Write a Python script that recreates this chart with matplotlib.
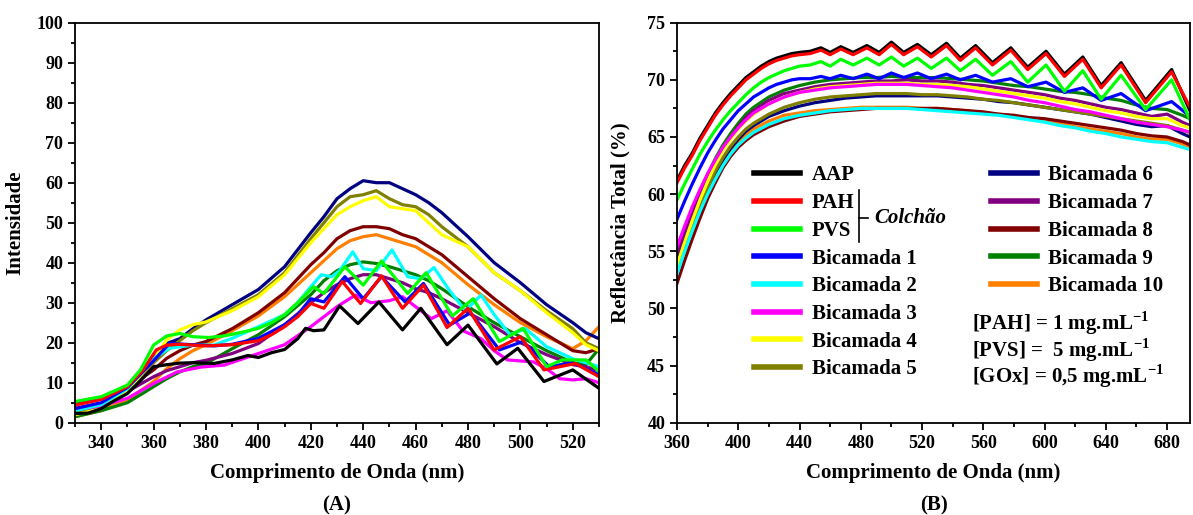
import matplotlib
matplotlib.use("Agg")
import matplotlib.pyplot as plt
from matplotlib.ticker import MultipleLocator

plt.rcParams['font.family'] = ['Liberation Serif', 'DejaVu Serif']
plt.rcParams['font.weight'] = 'bold'
plt.rcParams['axes.labelweight'] = 'bold'
plt.rcParams['mathtext.fontset'] = 'custom'
plt.rcParams['mathtext.rm'] = 'Liberation Serif:bold'
plt.rcParams['mathtext.bf'] = 'Liberation Serif:bold'

names = ['AAP', 'PAH', 'PVS', 'Bicamada 1', 'Bicamada 2', 'Bicamada 3', 'Bicamada 4',
         'Bicamada 5', 'Bicamada 6', 'Bicamada 7', 'Bicamada 8', 'Bicamada 9', 'Bicamada 10']
colors = ['#000000', '#ff0000', '#00ff00', '#0000ff', '#00ffff', '#ff00ff', '#ffff00',
          '#808000', '#000080', '#800080', '#800000', '#008000', '#ff8000']

# ---------------- (A) fluorescencia ----------------
a_x_aap = [330, 335, 340, 345, 350, 355, 360, 365, 370, 375, 383, 390, 396, 400, 405, 410,
           415, 418, 421, 425, 431, 438, 446, 455, 462, 472, 480, 491, 499, 509, 520, 530]
a_y_aap = [2.3, 2.4, 3.5, 5.5, 7.3, 10.5, 14.0, 14.5, 14.9, 15.0, 14.8, 15.7, 16.8, 16.3, 17.5, 18.3,
           21.0, 23.6, 23.0, 23.2, 29.2, 24.8, 30.2, 23.2, 28.6, 19.5, 24.4, 14.7, 18.6, 10.3, 13.2, 8.6]

a_x_pah = [330, 340, 350, 356, 361, 365, 370, 380, 390, 400, 405, 410, 415, 420, 425, 432,
           439, 447, 455, 463, 472, 480, 490, 500, 509, 521, 530]
a_y_pah = [4.4, 5.8, 9.0, 13.2, 18.2, 19.4, 19.6, 19.2, 19.5, 20.5, 22.0, 24.0, 26.5, 29.8, 28.6, 35.3,
           29.8, 36.7, 28.6, 34.4, 23.8, 28.6, 18.2, 21.5, 13.2, 14.8, 11.5]

a_x_pvs = [330, 340, 350, 355, 360, 365, 370, 375, 381, 387, 395, 400, 405, 410, 415, 421,
           425, 433, 440, 447, 457, 464, 474, 482, 492, 501, 510, 516, 525, 530]
a_y_pvs = [5.3, 6.5, 9.4, 13.2, 19.4, 21.7, 22.3, 21.5, 21.3, 21.7, 22.8, 23.6, 25.0, 27.0, 30.0, 34.0,
           32.3, 39.0, 34.4, 40.4, 32.3, 37.5, 26.7, 31.0, 20.3, 23.6, 14.0, 15.7, 15.7, 12.8]

a_x_b1 = [330, 340, 350, 360, 366, 375, 383, 390, 400, 410, 415, 420, 425, 433, 440, 447,
          456, 463, 473, 481, 492, 501, 511, 520, 530]
a_y_b1 = [3.5, 5.0, 8.8, 15.5, 19.8, 19.5, 19.2, 19.6, 21.1, 24.5, 27.0, 31.0, 30.2, 36.5, 31.0, 36.5,
          30.2, 34.8, 24.4, 27.5, 18.2, 20.3, 14.0, 15.0, 12.0]

a_x_b2 = [330, 340, 350, 360, 366, 375, 383, 390, 400, 410, 415, 420, 424, 428, 431, 436,
          440, 445, 451, 457, 462, 467, 473, 479, 485, 490, 496, 502, 510, 520, 530]
a_y_b2 = [3.0, 4.5, 8.5, 16.0, 18.6, 19.4, 19.4, 21.1, 24.0, 27.0, 30.0, 34.0, 37.0, 36.5, 38.0, 42.7,
          38.5, 38.0, 43.2, 36.5, 36.0, 38.8, 33.0, 28.0, 31.9, 27.0, 22.0, 23.5, 19.0, 16.0, 14.0]

a_x_b3 = [330, 340, 350, 360, 369, 378, 387, 400, 410, 420, 430, 437, 443, 450, 455, 460,
          466, 472, 478, 485, 490, 495, 505, 510, 515, 520, 525, 530]
a_y_b3 = [3.2, 4.2, 6.1, 9.8, 12.7, 13.9, 14.4, 17.3, 19.5, 24.0, 29.0, 31.9, 30.0, 30.5, 31.5, 29.0,
          26.0, 28.0, 23.0, 21.0, 18.0, 15.7, 15.2, 13.5, 11.0, 10.7, 11.0, 10.0]

a_x_grid = [330, 340, 350, 360, 365, 370, 375, 380, 390, 400, 410, 420, 425, 430, 435,
            440, 445, 450, 455, 460, 465, 470, 480, 490, 500, 510, 520, 525, 530]
a_y_b4 = [2.0, 3.5, 8.0, 15.7, 20.7, 23.2, 24.5, 25.2, 28.0, 31.5, 37.0, 45.0, 48.5, 52.0, 54.0,
          55.5, 56.5, 54.0, 53.5, 53.0, 50.0, 47.0, 44.0, 37.5, 33.0, 27.5, 22.5, 19.5, 18.0]
a_y_b5 = [2.5, 4.0, 8.0, 15.0, 18.0, 20.5, 23.0, 25.0, 28.5, 32.0, 37.5, 46.0, 50.0, 54.0, 56.5,
          57.0, 58.0, 56.0, 54.5, 54.0, 52.0, 49.0, 44.0, 37.5, 33.0, 28.0, 23.5, 20.0, 18.5]
a_y_b6 = [3.0, 4.5, 8.5, 16.0, 19.8, 21.0, 23.5, 25.7, 29.5, 33.3, 39.0, 47.5, 51.5, 56.0, 58.5,
          60.5, 60.0, 60.0, 58.5, 57.0, 55.0, 52.5, 46.5, 40.0, 35.0, 29.5, 25.0, 22.5, 21.0]
a_y_b7 = [3.6, 4.8, 7.8, 11.5, 13.0, 14.0, 15.0, 15.6, 17.3, 19.8, 24.5, 30.0, 32.5, 34.5, 36.0,
          37.0, 37.0, 36.0, 35.0, 33.5, 32.5, 31.0, 27.5, 24.0, 20.0, 17.0, 14.5, 14.0, 13.0]
a_y_b8 = [4.9, 6.0, 8.6, 13.2, 16.1, 18.0, 19.4, 20.3, 23.5, 27.5, 32.5, 39.5, 42.5, 46.0, 48.0,
          49.0, 49.0, 48.5, 47.0, 46.0, 44.0, 42.0, 36.5, 31.0, 26.0, 22.0, 18.0, 17.5, 18.5]
a_y_b9 = [1.5, 3.0, 5.0, 9.0, 11.0, 12.7, 14.0, 14.8, 18.5, 22.0, 26.5, 32.0, 35.5, 38.0, 39.5,
          40.2, 39.8, 39.0, 38.0, 37.0, 35.5, 33.5, 29.0, 25.0, 21.5, 18.0, 15.0, 14.5, 18.5]
a_y_b10 = [1.5, 3.0, 5.7, 10.3, 13.5, 16.0, 18.0, 19.5, 23.0, 26.7, 31.5, 37.5, 40.5, 43.5, 45.5,
           46.5, 47.0, 46.0, 45.0, 44.0, 42.0, 40.0, 34.5, 29.5, 25.0, 21.5, 18.5, 20.5, 24.0]

# ---------------- (B) reflectancia ----------------
b_x_osc = [360, 365, 370, 375, 380, 385, 390, 395, 400, 405, 410, 415, 420, 425, 430, 435, 440,
           447, 454, 460, 467, 475, 484, 492, 500, 508, 517, 526, 536, 545, 555, 566, 578, 589,
           601, 613, 625, 637, 650, 666, 683, 695]
b_y_aap = [61.2, 62.5, 63.6, 64.9, 66.0, 67.1, 68.0, 68.8, 69.5, 70.2, 70.7, 71.2, 71.6, 71.9, 72.1,
           72.3, 72.4, 72.5, 72.8, 72.4, 72.9, 72.4, 73.0, 72.4, 73.3, 72.4, 73.1, 72.2, 73.2, 71.9,
           73.0, 71.5, 72.8, 71.1, 72.5, 70.5, 72.0, 69.5, 71.5, 68.2, 70.9, 67.3]
b_y_pah = [61.0, 62.3, 63.4, 64.7, 65.8, 66.9, 67.8, 68.6, 69.3, 70.0, 70.5, 71.0, 71.4, 71.7, 71.9,
           72.1, 72.2, 72.3, 72.6, 72.2, 72.7, 72.2, 72.8, 72.2, 73.1, 72.2, 72.9, 72.0, 73.0, 71.7,
           72.8, 71.3, 72.6, 70.9, 72.3, 70.3, 71.8, 69.3, 71.3, 68.0, 70.7, 67.6]
b_y_pvs = [59.5, 60.9, 62.2, 63.5, 64.6, 65.6, 66.5, 67.3, 68.0, 68.7, 69.3, 69.8, 70.2, 70.5, 70.8,
           71.0, 71.2, 71.3, 71.6, 71.2, 71.8, 71.3, 71.9, 71.3, 72.0, 71.2, 71.9, 71.0, 71.9, 70.8,
           71.8, 70.4, 71.6, 69.8, 71.3, 69.0, 70.8, 68.3, 70.4, 67.4, 70.0, 66.5]
b_y_b1 = [57.8, 59.4, 60.9, 62.3, 63.6, 64.7, 65.7, 66.5, 67.3, 67.9, 68.5, 68.9, 69.3, 69.6, 69.8,
          70.0, 70.1, 70.1, 70.3, 70.1, 70.4, 70.1, 70.5, 70.1, 70.6, 70.2, 70.6, 70.1, 70.5, 70.0,
          70.4, 69.8, 70.1, 69.4, 69.8, 68.9, 69.3, 68.2, 68.8, 67.3, 68.1, 66.8]

b_x_grid = [360, 365, 370, 375, 380, 385, 390, 395, 400, 405, 410, 420, 430, 440, 450, 460, 470,
            480, 490, 500, 510, 520, 530, 540, 550, 560, 570, 580, 590, 600, 610, 620, 630, 640,
            650, 660, 670, 680, 690, 695]
b_y_b2 = [53.0, 55.0, 56.8, 58.5, 60.0, 61.3, 62.5, 63.5, 64.3, 64.9, 65.4, 66.1, 66.6, 66.9, 67.1,
          67.3, 67.4, 67.5, 67.5, 67.5, 67.5, 67.4, 67.3, 67.2, 67.1, 67.0, 66.9, 66.7, 66.5, 66.3,
          66.0, 65.8, 65.5, 65.3, 65.0, 64.8, 64.6, 64.5, 64.1, 63.9]
b_y_b3 = [55.4, 57.2, 58.9, 60.4, 61.8, 63.0, 64.1, 65.0, 65.8, 66.5, 67.1, 67.9, 68.5, 68.9, 69.1,
          69.3, 69.4, 69.5, 69.6, 69.6, 69.6, 69.5, 69.4, 69.3, 69.1, 68.9, 68.7, 68.5, 68.2, 68.0,
          67.7, 67.4, 67.2, 66.9, 66.6, 66.3, 66.1, 65.9, 65.6, 65.4]
b_y_b4 = [53.8, 55.8, 57.7, 59.5, 61.1, 62.6, 63.8, 64.8, 65.7, 66.4, 67.0, 67.9, 68.5, 68.9, 69.2,
          69.4, 69.5, 69.6, 69.7, 69.7, 69.7, 69.6, 69.6, 69.5, 69.4, 69.2, 69.0, 68.8, 68.6, 68.4,
          68.1, 67.9, 67.6, 67.3, 67.1, 66.8, 66.6, 66.6, 66.0, 65.8]
b_y_b5 = [53.6, 55.5, 57.3, 59.0, 60.6, 62.0, 63.2, 64.2, 65.0, 65.7, 66.2, 67.0, 67.6, 68.0, 68.3,
          68.5, 68.6, 68.7, 68.8, 68.8, 68.8, 68.7, 68.7, 68.6, 68.5, 68.3, 68.2, 68.0, 67.8, 67.6,
          67.4, 67.2, 67.0, 66.8, 66.6, 66.4, 66.2, 66.0, 65.6, 65.4]
b_y_b6 = [54.0, 55.8, 57.5, 59.1, 60.6, 61.9, 63.0, 64.0, 64.8, 65.5, 66.0, 66.8, 67.3, 67.7, 68.0,
          68.2, 68.4, 68.5, 68.6, 68.6, 68.6, 68.6, 68.6, 68.5, 68.4, 68.3, 68.1, 68.0, 67.8, 67.6,
          67.4, 67.2, 67.0, 66.7, 66.4, 66.1, 65.9, 66.0, 65.3, 65.0]
b_y_b7 = [54.7, 56.6, 58.4, 60.0, 61.5, 62.9, 64.0, 65.0, 65.9, 66.7, 67.3, 68.2, 68.8, 69.1, 69.4,
          69.6, 69.7, 69.8, 69.9, 69.9, 70.0, 69.9, 69.9, 69.8, 69.6, 69.5, 69.3, 69.1, 68.9, 68.7,
          68.4, 68.2, 67.9, 67.6, 67.4, 67.1, 66.8, 67.0, 66.3, 66.0]
b_y_b8 = [52.2, 54.2, 56.1, 57.9, 59.6, 61.0, 62.3, 63.3, 64.1, 64.7, 65.2, 65.9, 66.4, 66.8, 67.0,
          67.2, 67.3, 67.4, 67.5, 67.5, 67.5, 67.5, 67.5, 67.4, 67.3, 67.2, 67.0, 66.9, 66.7, 66.6,
          66.4, 66.2, 66.0, 65.8, 65.6, 65.3, 65.1, 65.0, 64.6, 64.3]
b_y_b9 = [54.6, 56.6, 58.4, 60.1, 61.7, 63.1, 64.3, 65.3, 66.2, 67.0, 67.6, 68.5, 69.1, 69.5, 69.8,
          70.0, 70.1, 70.2, 70.2, 70.3, 70.2, 70.2, 70.2, 70.1, 70.0, 69.9, 69.7, 69.5, 69.4, 69.2,
          69.0, 68.9, 68.7, 68.4, 68.2, 67.8, 67.5, 67.4, 66.9, 66.6]
b_y_b10 = [53.2, 55.1, 57.0, 58.7, 60.3, 61.6, 62.8, 63.8, 64.6, 65.2, 65.7, 66.4, 66.9, 67.1, 67.3,
           67.4, 67.5, 67.6, 67.6, 67.6, 67.6, 67.5, 67.5, 67.4, 67.3, 67.1, 67.0, 66.8, 66.6, 66.4,
           66.2, 65.9, 65.7, 65.5, 65.3, 65.0, 64.8, 64.8, 64.4, 64.1]

curves_a = [(a_x_aap, a_y_aap), (a_x_pah, a_y_pah), (a_x_pvs, a_y_pvs), (a_x_b1, a_y_b1),
            (a_x_b2, a_y_b2), (a_x_b3, a_y_b3), (a_x_grid, a_y_b4), (a_x_grid, a_y_b5),
            (a_x_grid, a_y_b6), (a_x_grid, a_y_b7), (a_x_grid, a_y_b8), (a_x_grid, a_y_b9),
            (a_x_grid, a_y_b10)]
curves_b = [(b_x_osc, b_y_aap), (b_x_osc, b_y_pah), (b_x_osc, b_y_pvs), (b_x_osc, b_y_b1),
            (b_x_grid, b_y_b2), (b_x_grid, b_y_b3), (b_x_grid, b_y_b4), (b_x_grid, b_y_b5),
            (b_x_grid, b_y_b6), (b_x_grid, b_y_b7), (b_x_grid, b_y_b8), (b_x_grid, b_y_b9),
            (b_x_grid, b_y_b10)]

# ordem de desenho: bicamadas primeiro, AAP/PAH/PVS por cima
order = [12, 11, 10, 9, 8, 7, 6, 5, 4, 3, 0, 1, 2]

fig = plt.figure(figsize=(11.93, 5.15), dpi=100)
axA = fig.add_axes([75 / 1193, 92.3 / 515, 524 / 1193, 400 / 515])
axB = fig.add_axes([677 / 1193, 92.3 / 515, 513 / 1193, 400 / 515])

for i in order:
    x, y = curves_a[i]
    axA.plot(x, y, color=colors[i], lw=2.3)

handles = {}
for i in order:
    x, y = curves_b[i]
    handles[i], = axB.plot(x, y, color=colors[i], lw=2.3, label=names[i])

for ax in (axA, axB):
    for s in ax.spines.values():
        s.set_linewidth(1.3)
    ax.tick_params(which='both', direction='out', top=False, right=False, labelsize=13, width=1.3)
    ax.tick_params(which='major', length=5)
    ax.tick_params(which='minor', length=3)

axA.set_xlim(330, 530)
axA.set_ylim(0, 100)
axA.xaxis.set_minor_locator(MultipleLocator(10))
axA.yaxis.set_major_locator(MultipleLocator(10))
axA.yaxis.set_minor_locator(MultipleLocator(5))
axA.set_xticks([340, 360, 380, 400, 420, 440, 460, 480, 500, 520])
axA.set_xlabel('Comprimento de Onda (nm)', fontsize=15)
axA.set_ylabel('Intensidade', fontsize=15)
axA.xaxis.set_label_coords(0.5, -0.1)
axA.yaxis.set_label_coords(-0.095, 0.5)

axB.set_xlim(360, 695)
axB.set_ylim(40, 75)
axB.xaxis.set_major_locator(MultipleLocator(40))
axB.xaxis.set_minor_locator(MultipleLocator(20))
axB.yaxis.set_major_locator(MultipleLocator(5))
axB.yaxis.set_minor_locator(MultipleLocator(2.5))
axB.set_xlabel('Comprimento de Onda (nm)', fontsize=15)
axB.set_ylabel('Reflectância Total (%)', fontsize=15)
axB.xaxis.set_label_coords(0.5, -0.1)
axB.yaxis.set_label_coords(-0.09, 0.5)

fig.text((75 + 262) / 1193, 1 - 505 / 515, '(A)', ha='center', va='center', fontsize=15)
fig.text((677 + 257) / 1193, 1 - 505 / 515, '(B)', ha='center', va='center', fontsize=15)

# legenda em duas colunas
leg_kw = dict(loc='upper left', frameon=False, fontsize=15, handlelength=2.2,
              handletextpad=0.55, labelspacing=0.37, borderpad=0, borderaxespad=0)
col1 = [0, 1, 2, 3, 4, 5, 6, 7]
col2 = [8, 9, 10, 11, 12]
leg1 = axB.legend([handles[i] for i in col1], [names[i] for i in col1],
                  bbox_to_anchor=(0.151, 0.643), **leg_kw)
axB.add_artist(leg1)
leg2 = axB.legend([handles[i] for i in col2], [names[i] for i in col2],
                  bbox_to_anchor=(0.612, 0.643), **leg_kw)
for lg in (leg1, leg2):
    for ln in lg.get_lines():
        ln.set_linewidth(4)

# chave "Colchão"
axB.plot([0.355, 0.355], [0.452, 0.582], color='black', lw=1.2, transform=axB.transAxes)
axB.plot([0.355, 0.373], [0.512, 0.512], color='black', lw=1.2, transform=axB.transAxes)
axB.text(0.385, 0.512, 'Colchão', style='italic', fontsize=15, va='center', ha='left',
         transform=axB.transAxes)

conc = ['[PAH] = 1 mg.mL$^{-1}$', '[PVS] =  5 mg.mL$^{-1}$', '[GOx] = 0,5 mg.mL$^{-1}$']
conc_y = [0.249, 0.182, 0.117]
for t, yy in zip(conc, conc_y):
    axB.text(0.576, yy, t, fontsize=15, va='center', ha='left', transform=axB.transAxes)

fig.savefig('out.png', dpi=100)
